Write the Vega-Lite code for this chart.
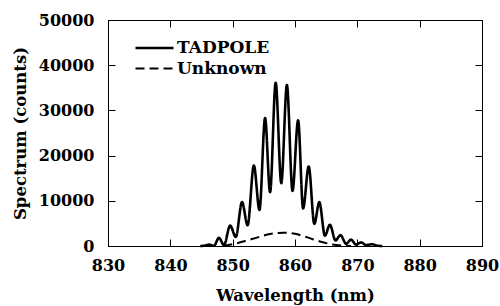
{
  "$schema": "https://vega.github.io/schema/vega-lite/v6.json",
  "width": 374,
  "height": 226,
  "autosize": "none",
  "padding": {"left": 108, "top": 20, "right": 18, "bottom": 60},
  "background": "white",
  "config": {
    "view": {"stroke": "black", "strokeWidth": 1},
    "font": "DejaVu Serif",
    "axis": {
      "labelFont": "DejaVu Serif",
      "labelFontWeight": "bold",
      "labelFontSize": 16,
      "labelColor": "black",
      "titleFont": "DejaVu Serif",
      "titleFontWeight": "bold",
      "titleFontSize": 16.5,
      "titleColor": "black",
      "domainColor": "black",
      "tickColor": "black",
      "grid": false,
      "labelFlush": false,
      "labelOverlap": false,
      "labelBound": false
    }
  },
  "data": {
    "values": [
      {"series": "TADPOLE", "wl": 844.8, "counts": 0},
      {"series": "TADPOLE", "wl": 845.5, "counts": 80},
      {"series": "TADPOLE", "wl": 846.2, "counts": 300},
      {"series": "TADPOLE", "wl": 847.0, "counts": 50},
      {"series": "TADPOLE", "wl": 847.8, "counts": 1800},
      {"series": "TADPOLE", "wl": 848.6, "counts": 200},
      {"series": "TADPOLE", "wl": 849.6, "counts": 4500},
      {"series": "TADPOLE", "wl": 850.5, "counts": 2000},
      {"series": "TADPOLE", "wl": 851.5, "counts": 9700},
      {"series": "TADPOLE", "wl": 852.4, "counts": 4600},
      {"series": "TADPOLE", "wl": 853.4, "counts": 17800},
      {"series": "TADPOLE", "wl": 854.3, "counts": 8000},
      {"series": "TADPOLE", "wl": 855.2, "counts": 28300},
      {"series": "TADPOLE", "wl": 856.0, "counts": 11900},
      {"series": "TADPOLE", "wl": 856.9, "counts": 36100},
      {"series": "TADPOLE", "wl": 857.8, "counts": 13900},
      {"series": "TADPOLE", "wl": 858.7, "counts": 35600},
      {"series": "TADPOLE", "wl": 859.6, "counts": 12200},
      {"series": "TADPOLE", "wl": 860.5, "counts": 27800},
      {"series": "TADPOLE", "wl": 861.3, "counts": 8300},
      {"series": "TADPOLE", "wl": 862.2, "counts": 17600},
      {"series": "TADPOLE", "wl": 863.1, "counts": 4900},
      {"series": "TADPOLE", "wl": 863.9, "counts": 9700},
      {"series": "TADPOLE", "wl": 864.8, "counts": 2300},
      {"series": "TADPOLE", "wl": 865.6, "counts": 4700},
      {"series": "TADPOLE", "wl": 866.5, "counts": 1250},
      {"series": "TADPOLE", "wl": 867.3, "counts": 2400},
      {"series": "TADPOLE", "wl": 868.2, "counts": 500},
      {"series": "TADPOLE", "wl": 869.0, "counts": 1400},
      {"series": "TADPOLE", "wl": 869.8, "counts": 300},
      {"series": "TADPOLE", "wl": 870.6, "counts": 800},
      {"series": "TADPOLE", "wl": 871.4, "counts": 200},
      {"series": "TADPOLE", "wl": 872.3, "counts": 400},
      {"series": "TADPOLE", "wl": 873.1, "counts": 100},
      {"series": "TADPOLE", "wl": 874.0, "counts": 0},
      {"series": "Unknown", "wl": 848.5, "counts": 0},
      {"series": "Unknown", "wl": 850.0, "counts": 400},
      {"series": "Unknown", "wl": 852.0, "counts": 1100},
      {"series": "Unknown", "wl": 854.0, "counts": 1900},
      {"series": "Unknown", "wl": 856.0, "counts": 2650},
      {"series": "Unknown", "wl": 858.2, "counts": 2950},
      {"series": "Unknown", "wl": 860.0, "counts": 2700},
      {"series": "Unknown", "wl": 862.0, "counts": 1900},
      {"series": "Unknown", "wl": 864.0, "counts": 1000},
      {"series": "Unknown", "wl": 866.0, "counts": 350},
      {"series": "Unknown", "wl": 868.0, "counts": 50},
      {"series": "Unknown", "wl": 869.0, "counts": 0}
    ]
  },
  "layer": [
    {
      "mark": {"type": "line", "interpolate": "monotone", "color": "black"},
      "encoding": {
        "x": {
          "field": "wl", "type": "quantitative",
          "scale": {"domain": [830, 890], "nice": false, "zero": false},
          "axis": {"orient": "bottom", "title": "Wavelength (nm)", "values": [830, 840, 850, 860, 870, 880, 890], "format": "d", "tickSize": -7, "labelPadding": 18, "titlePadding": 14}
        },
        "y": {
          "field": "counts", "type": "quantitative",
          "scale": {"domain": [0, 50000], "nice": false},
          "axis": {"orient": "left", "title": "Spectrum (counts)", "values": [0, 10000, 20000, 30000, 40000, 50000], "format": "d", "tickSize": -7, "labelPadding": 21, "titlePadding": 10}
        },
        "strokeDash": {
          "field": "series", "type": "nominal",
          "scale": {"domain": ["TADPOLE", "Unknown"], "range": [[1, 0], [9, 5]]},
          "legend": {
            "title": null,
            "orient": "none",
            "legendX": 26,
            "legendY": 17,
            "padding": 0,
            "symbolType": "M-1,0L3,0",
            "symbolSize": 361,
            "symbolStrokeWidth": 2,
            "symbolStrokeColor": "black",
            "labelFont": "DejaVu Serif",
            "labelFontWeight": "bold",
            "labelFontSize": 17,
            "labelColor": "black",
            "labelOffset": 21
          }
        },
        "strokeWidth": {
          "field": "series", "type": "nominal",
          "scale": {"domain": ["TADPOLE", "Unknown"], "range": [2.6, 2]},
          "legend": null
        }
      }
    },
    {
      "mark": {"type": "line", "opacity": 0},
      "encoding": {
        "x": {
          "field": "wl", "type": "quantitative",
          "axis": {"orient": "top", "title": null, "labels": false, "values": [840, 850, 860, 870, 880], "tickSize": -7}
        },
        "y": {
          "field": "counts", "type": "quantitative",
          "axis": {"orient": "right", "title": null, "labels": false, "values": [10000, 20000, 30000, 40000], "tickSize": -7}
        }
      }
    }
  ],
  "resolve": {"axis": {"x": "independent", "y": "independent"}}
}
